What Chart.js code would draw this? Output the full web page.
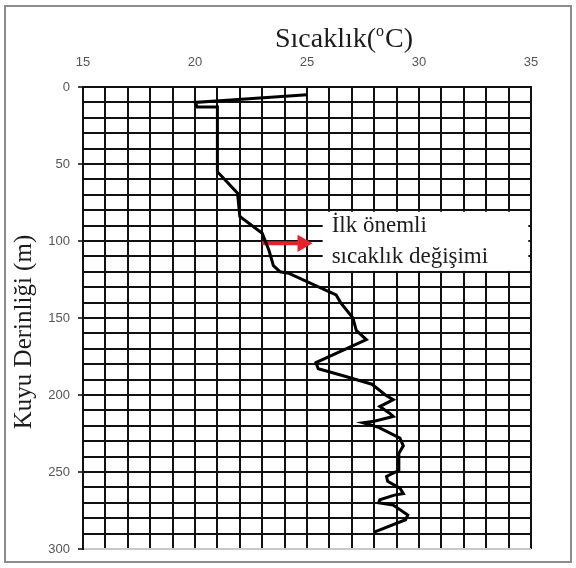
<!DOCTYPE html>
<html>
<head>
<meta charset="utf-8">
<script src="https://cdn.jsdelivr.net/npm/chart.js@4.4.1/dist/chart.umd.min.js"></script>
<style>
  html, body { margin: 0; padding: 0; background: #fff; }
  #wrap { position: relative; width: 576px; height: 568px; }
  #frame { position: absolute; left: 4px; top: 5px; width: 564px; height: 554px; border: 2px solid #8c8c8c; pointer-events: none; }
  canvas { position: absolute; left: 0; top: 0; }
</style>
</head>
<body>
<div id="wrap">
  <canvas id="grafico" width="576" height="568"></canvas>
  <div id="frame"></div>
</div>
<script>
// Kuyu sicaklik profili
const derinlik = [5, 8.5, 10, 13, 13, 55, 69, 84, 95, 106, 116, 120, 121, 133, 135, 140, 150, 158, 164, 179, 183, 187, 193, 200, 203, 207.5, 212, 214, 217, 218, 221, 228, 233, 238, 249, 251, 253, 256, 260.5, 264, 265, 268, 270, 271.5, 278, 281, 289];
const sicaklik = [25.0, 21.6, 20.0, 20.1, 21.0, 21.0, 21.9, 22.0, 23.0, 23.3, 23.5, 23.8, 24.2, 26.0, 26.3, 26.5, 27.05, 27.2, 27.65, 25.4, 25.5, 26.5, 27.9, 28.5, 28.85, 28.25, 28.7, 28.85, 28.0, 27.5, 28.2, 29.15, 29.3, 29.1, 29.1, 28.8, 28.55, 28.6, 29.15, 29.3, 28.9, 28.25, 28.2, 28.85, 29.5, 29.4, 28.0];

// ilk onemli sicaklik degisimi oku
const okSicaklik = [23.0, 24.8];
const okDerinlik = [101.5, 101.5];

const xMin = 15, xMax = 35, xAdim = 1, xEtiket = 5;
const yMin = 0, yMax = 300, yAdim = 10, yEtiket = 50;

const notSatirlari = ['İlk önemli', 'sıcaklık değişimi'];

Chart.defaults.font.family = "'Liberation Sans', Arial, sans-serif";

const serif = "'Liberation Serif', 'Times New Roman', serif";

const notKutusu = {
  id: 'notKutusu',
  beforeDatasetsDraw(chart) {
    const {ctx, scales: {x, y}} = chart;
    const x1 = x.getPixelForValue(25.7), x2 = x.getPixelForValue(34.88);
    const y1 = y.getPixelForValue(81), y2 = y.getPixelForValue(119.4);
    ctx.save();
    ctx.fillStyle = '#fff';
    ctx.fillRect(x1, y1, x2 - x1, y2 - y1);
    ctx.fillStyle = '#1c1c1c';
    ctx.font = '23px ' + serif;
    ctx.textBaseline = 'middle';
    ctx.textAlign = 'left';
    ctx.fillText(notSatirlari[0], x.getPixelForValue(26.1), y.getPixelForValue(90.5));
    ctx.fillText(notSatirlari[1], x.getPixelForValue(26.1), y.getPixelForValue(110.5));
    ctx.restore();
  }
};

const basliklar = {
  id: 'basliklar',
  afterDraw(chart) {
    const {ctx, chartArea: a} = chart;
    ctx.save();
    ctx.fillStyle = '#1c1c1c';
    // ust eksen basligi
    const buyuk = '28px ' + serif, kucuk = '16px ' + serif;
    ctx.font = buyuk;
    const w1 = ctx.measureText('Sıcaklık(').width;
    const w3 = ctx.measureText('C)').width;
    ctx.font = kucuk;
    const w2 = ctx.measureText('o').width + 1;
    let bx = (a.left + a.right) / 2 + 37 - (w1 + w2 + w3) / 2;
    const by = a.top - 40;
    ctx.textBaseline = 'alphabetic';
    ctx.textAlign = 'left';
    ctx.font = buyuk;
    ctx.fillText('Sıcaklık(', bx, by);
    ctx.font = kucuk;
    ctx.fillText('o', bx + w1, by - 11);
    ctx.font = buyuk;
    ctx.fillText('C)', bx + w1 + w2, by);
    // sol eksen basligi
    ctx.translate(a.left - 59, (a.top + a.bottom) / 2 + 14);
    ctx.rotate(-Math.PI / 2);
    ctx.font = '25px ' + serif;
    ctx.textAlign = 'center';
    ctx.textBaseline = 'middle';
    ctx.fillText('Kuyu Derinliği (m)', 0, 0);
    ctx.restore();
  }
};

const ctx = document.getElementById('grafico').getContext('2d');
const grafik = new Chart(ctx, {
  type: 'scatter',
  data: {
    datasets: [{
      data: derinlik.map((d, i) => ({x: sicaklik[i], y: d})),
      showLine: true,
      borderColor: '#000',
      borderWidth: 3,
      pointRadius: 0,
      tension: 0
    }, {
      data: okDerinlik.map((d, i) => ({x: okSicaklik[i], y: d})),
      showLine: true,
      borderColor: '#e8222b',
      backgroundColor: '#e8222b',
      borderWidth: 4,
      pointRadius: [0, 6],
      pointStyle: 'triangle',
      rotation: 90
    }]
  },
  options: {
    responsive: false,
    animation: false,
    layout: { padding: { top: 0, left: 0, right: 45, bottom: 19 } },
    plugins: {
      legend: { display: false },
      tooltip: { enabled: false }
    },
    scales: {
      x: {
        type: 'linear',
        position: 'top',
        min: xMin,
        max: xMax,
        afterFit: s => { s.height = 87; },
        ticks: {
          stepSize: xAdim,
          maxTicksLimit: 100,
          autoSkip: false,
          maxRotation: 0,
          padding: 17,
          color: '#555',
          font: { size: 13 },
          callback: v => (v % xEtiket === 0 ? v : '')
        },
        grid: { color: '#111', lineWidth: 2, drawTicks: false },
        border: { display: true, color: '#111', width: 2 }
      },
      y: {
        type: 'linear',
        reverse: true,
        min: yMin,
        max: yMax,
        afterFit: s => { s.width = 83; },
        ticks: {
          stepSize: yAdim,
          maxTicksLimit: 100,
          autoSkip: false,
          padding: 8,
          color: '#555',
          font: { size: 13 },
          callback: v => (v % yEtiket === 0 ? v : '')
        },
        grid: {
          color: c => (c.tick && c.tick.value === yMax ? '#c8c8c8' : '#111'),
          lineWidth: 2,
          tickLength: 5,
          tickColor: c => (c.tick && c.tick.value % yEtiket === 0 ? '#444' : 'rgba(0,0,0,0)')
        },
        border: { display: true, color: '#111', width: 2 }
      }
    }
  },
  plugins: [notKutusu, basliklar]
});
</script>
</body>
</html>
